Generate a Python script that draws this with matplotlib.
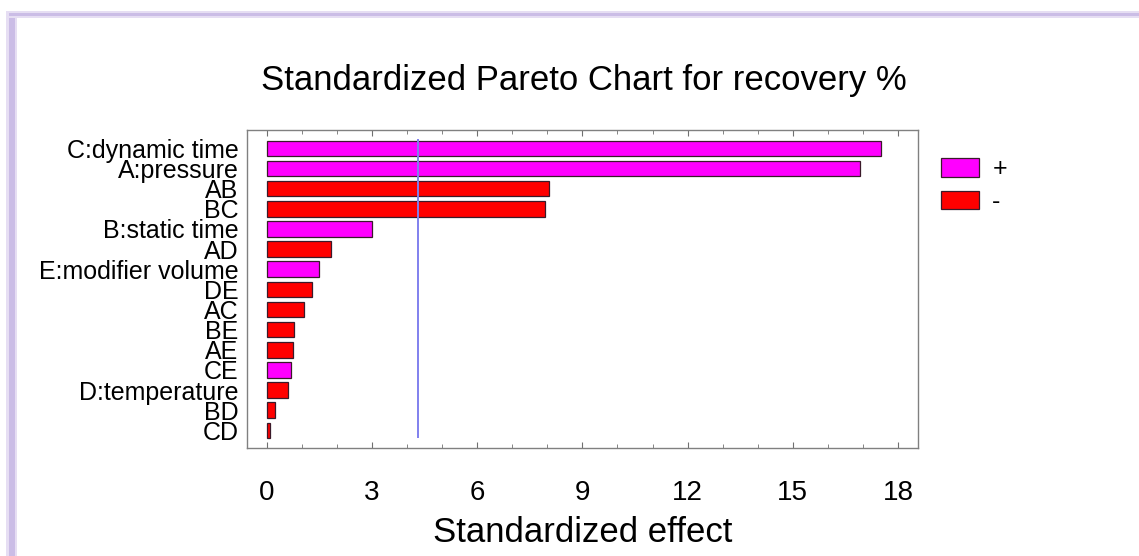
import matplotlib
matplotlib.use("Agg")
import matplotlib.pyplot as plt
from matplotlib.patches import Patch, Rectangle
from matplotlib.ticker import MultipleLocator

plt.rcParams["font.family"] = ["Liberation Sans", "DejaVu Sans"]

# Standardized effects of the factors and interactions, largest first
terms = ["C:dynamic time", "A:pressure", "AB", "BC", "B:static time", "AD",
         "E:modifier volume", "DE", "AC", "BE", "AE", "CE", "D:temperature",
         "BD", "CD"]
effects = [17.51, 16.91, 8.04, 7.93, 3.00, 1.83, 1.50, 1.30, 1.05, 0.78,
           0.75, 0.70, 0.59, 0.24, 0.09]
signs = ["+", "+", "-", "-", "+", "-", "+", "-", "-", "-", "-", "+", "-",
         "-", "-"]
critical_t = 4.303
x_ticks = [0, 3, 6, 9, 12, 15, 18]

POS_COLOR = "#ff00ff"
NEG_COLOR = "#ff0000"

W, H = 1139, 556
fig = plt.figure(figsize=(W / 100, H / 100), dpi=100)
fig.patch.set_facecolor("white")

# lavender page frame (top and left edges)
for (x0, y0, w, h, c) in [
    (6, 0, 11, H - 12, "#e6def3"),
    (9, 0, 6, H - 12, "#cbbde6"),
    (6, H - 18, W - 6, 7, "#e6def3"),
    (9, H - 16, W - 9, 3, "#cbbde6"),
]:
    fig.add_artist(Rectangle((x0 / W, y0 / H), w / W, h / H,
                             transform=fig.transFigure, facecolor=c,
                             edgecolor="none", zorder=0))

left, right, top, bottom = 247, 918, 129.5, 448
ax = fig.add_axes([left / W, 1 - bottom / H, (right - left) / W,
                   (bottom - top) / H])

ypos = list(range(len(terms)))
colors = [POS_COLOR if s == "+" else NEG_COLOR for s in signs]
ax.barh(ypos, effects, height=0.77, color=colors, edgecolor="#3a1a2a",
        linewidth=0.9, zorder=2)
ax.vlines(critical_t, -0.45, len(terms) - 0.6, color="#8080ee",
          linewidth=1.4, zorder=3)

ax.set_xlim(-0.565, 18.57)
ax.set_ylim(14.88, -0.94)
ax.set_yticks(ypos)
ax.set_yticklabels(terms, fontsize=18)
ax.tick_params(axis="y", length=0, pad=6)
ax.set_xticks(x_ticks)
ax.xaxis.set_minor_locator(MultipleLocator(1))
ax.tick_params(axis="x", which="both", direction="in", top=True,
               bottom=True, colors="#707070", labelcolor="black",
               labelsize=20, pad=23)
ax.tick_params(axis="x", which="major", length=4.5)
ax.tick_params(axis="x", which="minor", length=3)
for s in ax.spines.values():
    s.set_color("#808080")
    s.set_linewidth(1.0)

ax.set_xlabel("Standardized effect", fontsize=25, labelpad=7)
fig.text(583.5 / W, 1 - 90 / H, "Standardized Pareto Chart for recovery %",
         ha="center", va="baseline", fontsize=25)

handles = [Patch(facecolor=POS_COLOR, edgecolor="#3a1a2a", linewidth=0.9),
           Patch(facecolor=NEG_COLOR, edgecolor="#3a1a2a", linewidth=0.9)]
fig.legend(handles, ["+", "-"], loc="upper left",
           bbox_to_anchor=(936 / W, 1 - 152 / H), frameon=False,
           fontsize=18, handlelength=1.5, handleheight=0.76,
           labelspacing=0.35, handletextpad=0.55, borderaxespad=0,
           borderpad=0.2)

fig.savefig("out.png", dpi=100)
